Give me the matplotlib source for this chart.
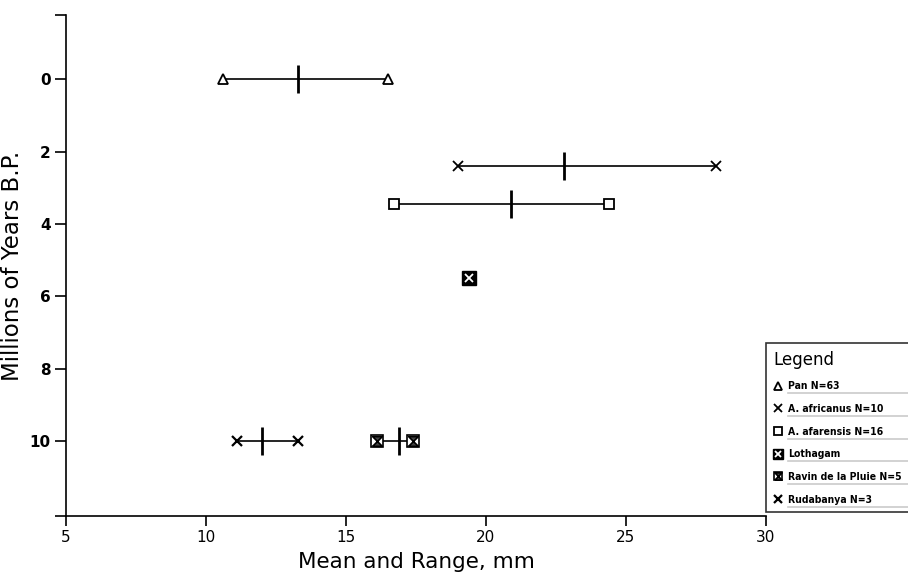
import numpy as np
import matplotlib
matplotlib.use("Agg")
import matplotlib.pyplot as plt
from matplotlib.path import Path
from matplotlib.lines import Line2D
from matplotlib.legend_handler import HandlerTuple

# sample groups, age (Myr B.P.) and measurement ranges in mm
groups = ["Pan N=63", "A. africanus N=10", "A. afarensis N=16",
          "Lothagam", "Ravin de la Pluie N=5", "Rudabanya N=3"]
age_mya = [0.0, 2.4, 3.45, 5.5, 10.0, 10.0]
range_min = [10.6, 19.0, 16.7, 19.4, 16.1, 11.1]
range_max = [16.5, 28.2, 24.4, 19.4, 17.4, 13.3]
means = [13.3, 22.8, 20.9, None, 16.9, 12.0]

xticks = [5, 10, 15, 20, 25, 30]
yticks = [0, 2, 4, 6, 8, 10]

hourglass = Path([(-1, -1), (1, -1), (-1, 1), (1, 1), (-1, -1)])

# marker styles per group: list of overlaid marker specs
styles = [
    [dict(marker="^", ms=7, mfc="white", mec="black", mew=1.3)],
    [dict(marker="x", ms=7, mec="black", mew=1.3)],
    [dict(marker="s", ms=7, mfc="white", mec="black", mew=1.3)],
    [dict(marker="s", ms=10, mfc="black", mec="black", mew=1.0),
     dict(marker="x", ms=6, mec="white", mew=1.3)],
    [dict(marker="s", ms=8, mfc="white", mec="black", mew=1.2),
     dict(marker=hourglass, ms=7, mfc="#444444", mec="black", mew=1.2)],
    [dict(marker="x", ms=7, mec="black", mew=1.6)],
]

fig = plt.figure(figsize=(9.08, 5.8), dpi=100)
ax = fig.add_axes([0.0727, 0.110, 0.7709, 0.864])

handles = []
for i, g in enumerate(groups):
    y = age_mya[i]
    if range_max[i] > range_min[i]:
        ax.plot([range_min[i], range_max[i]], [y, y], color="black", lw=1.2, zorder=2)
    hs = []
    for st in styles[i]:
        xs = [range_min[i], range_max[i]] if range_max[i] > range_min[i] else [range_min[i]]
        ax.plot(xs, [y] * len(xs), ls="none", zorder=3, **st)
        leg_st = dict(st)
        leg_st["ms"] = st["ms"] * 0.75
        hs.append(Line2D([], [], ls="none", **leg_st))
    handles.append(tuple(hs))
    if means[i] is not None:
        ax.plot([means[i]], [y], marker="|", ms=20, mew=2, color="black", zorder=4)

ax.set_xlim(5, 30)
ax.set_ylim(12.07, -1.77)
ax.set_xticks(xticks)
ax.set_yticks(yticks)
ax.set_yticks([-1.77, 12.07], minor=True)
ax.tick_params(axis="y", which="both", length=8, width=1.2, labelsize=11, pad=3)
ax.tick_params(axis="x", length=7, width=1.2, labelsize=11, pad=3)
for lab in ax.get_yticklabels():
    lab.set_fontweight("bold")
ax.spines["top"].set_visible(False)
ax.spines["right"].set_visible(False)
ax.spines["left"].set_linewidth(1.2)
ax.spines["bottom"].set_linewidth(1.2)
ax.set_xlabel("Mean and Range, mm", fontsize=15.5, labelpad=5)
ax.set_ylabel("Millions of Years B.P.", fontsize=16.5, labelpad=4)

leg = fig.legend(handles, groups, loc="upper left", mode="expand",
                 bbox_to_anchor=(0.8436, 0.12, 0.3, 0.2886),
                 handler_map={tuple: HandlerTuple(ndivide=1)},
                 title="Legend", alignment="left", fancybox=False,
                 edgecolor="black", handlelength=0.8, handletextpad=0.6,
                 borderaxespad=0, labelspacing=1.22, borderpad=0.72,
                 prop=dict(size=7.5, weight="bold", stretch="condensed"),
                 title_fontsize=12)
leg.get_frame().set_linewidth(1.2)

# underline each legend entry out to the figure edge
fig.canvas.draw()
W, H = fig.bbox.width, fig.bbox.height
for t in leg.get_texts():
    bb = t.get_window_extent()
    yy = (bb.y0 - 2) / H
    fig.add_artist(Line2D([bb.x0 / W, 1.0], [yy, yy], transform=fig.transFigure,
                          color="black", lw=1.2))

fig.savefig("out.png", dpi=100)
